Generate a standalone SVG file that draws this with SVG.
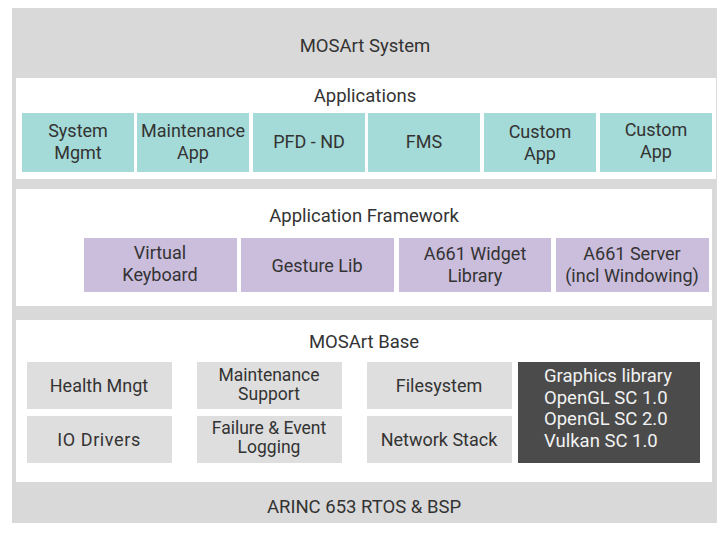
<svg xmlns="http://www.w3.org/2000/svg" width="722" height="535" viewBox="0 0 722 535">
<style>
text{font-family:Roboto,"Liberation Sans",sans-serif;font-size:18px;fill:#333;text-anchor:middle}
.t{font-size:18.5px}
.s{font-size:17.5px}
.outer{fill:#d9d9d9}
.panel{fill:#fff}
.app{fill:#a4dad7}
.fw{fill:#cbbddc}
.base{fill:#dedede}
.dark{fill:#4b4b4b}
.lt{fill:#f2f2f2;text-anchor:start;font-size:18.5px}
</style>
<rect width="722" height="535" fill="#fff"/>
<g id="system">
<rect class="outer" x="12" y="8" width="705" height="515"/>
<text class="t" x="365" y="52">MOSArt System</text>
<text class="t" x="364" y="513">ARINC 653 RTOS &amp; BSP</text>
</g>
<g id="applications">
<rect class="panel" x="16" y="78" width="700" height="101"/>
<text class="t" x="365" y="102">Applications</text>
</g>
<g id="app-system-mgmt"><rect class="app" x="22" y="113" width="112" height="59"/><text x="78" y="137">System</text><text x="78" y="159">Mgmt</text></g>
<g id="app-maintenance"><rect class="app" x="137" y="113" width="112" height="59"/><text x="193" y="137">Maintenance</text><text x="193" y="159">App</text></g>
<g id="app-pfd-nd"><rect class="app" x="253" y="113" width="112" height="59"/><text x="309" y="148">PFD - ND</text></g>
<g id="app-fms"><rect class="app" x="368" y="113" width="112" height="59"/><text x="424" y="148">FMS</text></g>
<g id="app-custom1"><rect class="app" x="484" y="113" width="112" height="59"/><text x="540" y="138">Custom</text><text x="540" y="160">App</text></g>
<g id="app-custom2"><rect class="app" x="600" y="113" width="112" height="59"/><text x="656" y="136">Custom</text><text x="656" y="158">App</text></g>
<g id="framework">
<rect class="panel" x="16" y="189" width="696" height="117"/>
<text class="t" x="364" y="222">Application Framework</text>
</g>
<g id="fw-virtual-keyboard"><rect class="fw" x="84" y="238" width="153" height="54"/><text x="160" y="259">Virtual</text><text x="160" y="281">Keyboard</text></g>
<g id="fw-gesture-lib"><rect class="fw" x="241" y="238" width="153" height="54"/><text x="317" y="272">Gesture Lib</text></g>
<g id="fw-a661-widget"><rect class="fw" x="399" y="238" width="152" height="54"/><text x="475" y="260">A661 Widget</text><text x="475" y="282">Library</text></g>
<g id="fw-a661-server"><rect class="fw" x="556" y="238" width="153" height="54"/><text x="632" y="260">A661 Server</text><text x="632" y="282">(incl Windowing)</text></g>
<g id="base">
<rect class="panel" x="16" y="320" width="696" height="162"/>
<text class="t" x="364" y="348">MOSArt Base</text>
</g>
<g id="base-health"><rect class="base" x="27" y="362" width="145" height="47"/><text x="99" y="392">Health Mngt</text></g>
<g id="base-io"><rect class="base" x="27" y="416" width="145" height="47"/><text x="99" y="446" letter-spacing="0.6">IO Drivers</text></g>
<g id="base-maint"><rect class="base" x="197" y="362" width="145" height="47"/><text class="s" x="269" y="381">Maintenance</text><text class="s" x="269" y="400">Support</text></g>
<g id="base-failure"><rect class="base" x="197" y="416" width="145" height="47"/><text class="s" x="269" y="434">Failure &amp; Event</text><text class="s" x="269" y="453">Logging</text></g>
<g id="base-filesystem"><rect class="base" x="367" y="362" width="145" height="47"/><text x="439" y="392">Filesystem</text></g>
<g id="base-network"><rect class="base" x="367" y="416" width="145" height="47"/><text x="439" y="446">Network Stack</text></g>
<g id="base-graphics"><rect class="dark" x="518" y="362" width="182" height="101"/>
<text class="lt" x="544" y="382">Graphics library</text>
<text class="lt" x="544" y="404">OpenGL SC 1.0</text>
<text class="lt" x="544" y="425">OpenGL SC 2.0</text>
<text class="lt" x="544" y="447">Vulkan SC 1.0</text>
</g>
</svg>
